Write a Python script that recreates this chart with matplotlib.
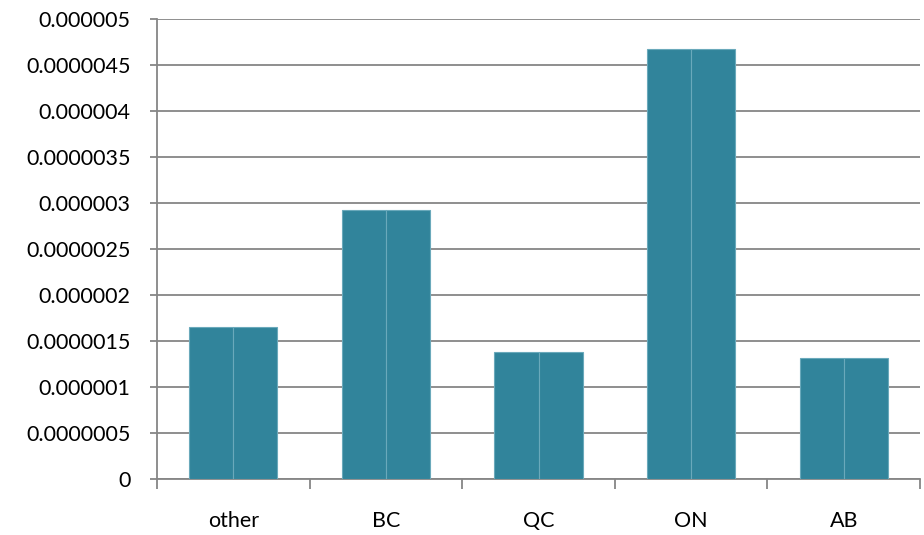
import matplotlib.pyplot as plt
import numpy as np

categories = ["other", "BC", "QC", "ON", "AB"]
values = [1.652e-6, 2.924e-6, 1.380e-6, 4.674e-6, 1.315e-6]
y_ticks = [0, 0.0000005, 0.000001, 0.0000015, 0.000002, 0.0000025,
           0.000003, 0.0000035, 0.000004, 0.0000045, 0.000005]
y_labels = ["0", "0.0000005", "0.000001", "0.0000015", "0.000002", "0.0000025",
            "0.000003", "0.0000035", "0.000004", "0.0000045", "0.000005"]

plt.rcParams['font.family'] = ['Lato', 'DejaVu Sans']

fig = plt.figure(figsize=(9.24, 5.35), dpi=100)
ax = fig.add_axes([157 / 924, 1 - 479 / 535, (920 - 157) / 924, (479 - 19) / 535])

x = np.arange(len(categories))
w = 44 / 152.5
bar_color = "#31849B"
edge = "#6aa9bb"
ax.bar(x - w / 2, values, w, color=bar_color, edgecolor=edge, linewidth=0.8, zorder=3)
ax.bar(x + w / 2, values, w, color=bar_color, edgecolor=edge, linewidth=0.8, zorder=3)

grey = "#868686"
ax.set_xlim(-0.5, len(categories) - 0.5)
ax.set_ylim(0, 0.000005)
ax.set_yticks(y_ticks)
ax.set_yticklabels(y_labels, fontsize=15.5)
ax.yaxis.grid(True, color=grey, linewidth=1.3, zorder=0)

ax.set_xticks(x)
ax.set_xticklabels(categories, fontsize=15.5)
ax.tick_params(axis="x", length=0, pad=23)
ax.set_xticks(np.arange(len(categories) + 1) - 0.5, minor=True)
ax.tick_params(axis="x", which="minor", length=7, color=grey, width=1.3)
ax.tick_params(axis="y", length=5, color=grey, width=1.3, pad=14)

for s in ["top", "right"]:
    ax.spines[s].set_visible(False)
for s in ["left", "bottom"]:
    ax.spines[s].set_color(grey)
    ax.spines[s].set_linewidth(1.3)

fig.savefig("out.png", dpi=100)
